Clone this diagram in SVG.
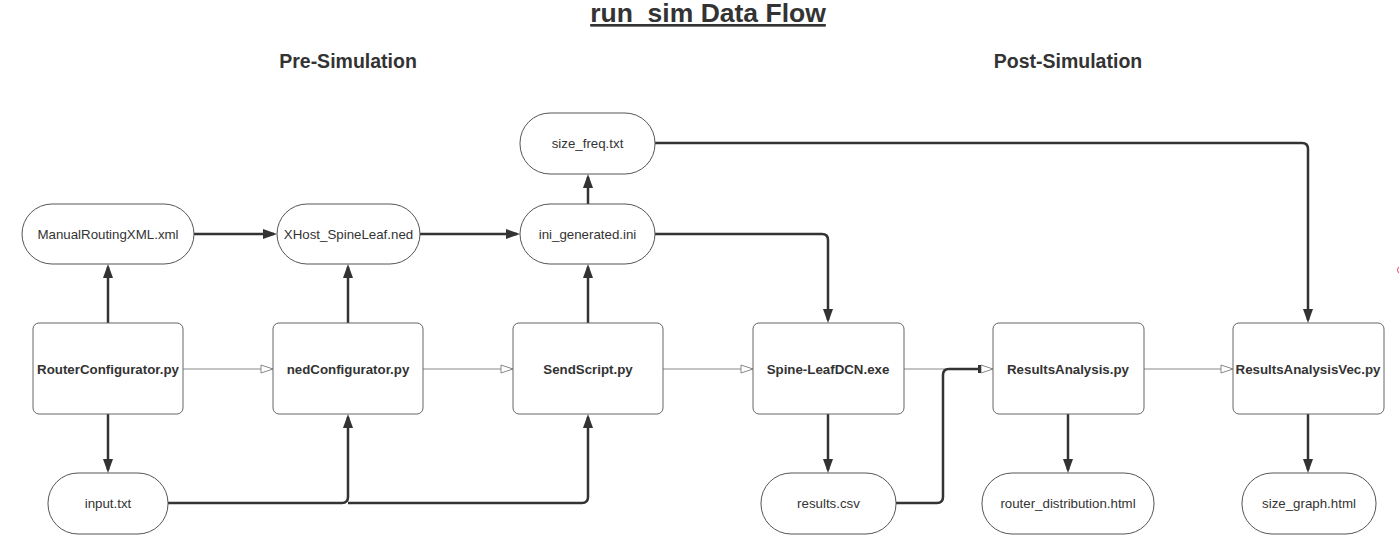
<svg xmlns="http://www.w3.org/2000/svg" width="1399" height="544" viewBox="0 0 1399 544">
<style>
  .bg { fill: #ffffff; }
  .oval { fill: #ffffff; stroke: #555555; stroke-width: 1; }
  .box { fill: #ffffff; stroke: #666666; stroke-width: 1; }
  .lbl { font-family: "Liberation Sans", Arial, sans-serif; font-size: 13.3px; fill: #333333; text-anchor: middle; }
  .blbl { font-family: "Liberation Sans", Arial, sans-serif; font-size: 13.3px; font-weight: bold; fill: #333333; text-anchor: middle; }
  .hdr { font-family: "Liberation Sans", Arial, sans-serif; font-size: 19.5px; font-weight: bold; fill: #333333; text-anchor: middle; }
  .title { font-family: "Liberation Sans", Arial, sans-serif; font-size: 26.5px; font-weight: bold; fill: #333333; text-anchor: middle; text-decoration: underline; }
  .thick { fill: none; stroke: #333333; stroke-width: 2.5; }
  .thin { fill: none; stroke: #888888; stroke-width: 1; }
</style>
<defs>
  <marker id="fa" markerUnits="userSpaceOnUse" markerWidth="14" markerHeight="10" viewBox="0 0 14 10" refX="11" refY="5" orient="auto">
    <path d="M0,0 L14,5 L0,10 z" fill="#333333"/>
  </marker>
  <marker id="oa" markerUnits="userSpaceOnUse" markerWidth="14" markerHeight="10" viewBox="0 0 14 10" refX="13" refY="5" orient="auto">
    <path d="M1,1 L13,5 L1,9 z" fill="#ffffff" stroke="#888888" stroke-width="1"/>
  </marker>
</defs>
<rect class="bg" x="0" y="0" width="1399" height="544"/>

<text class="title" x="708" y="22">run_sim Data Flow</text>
<text class="hdr" x="348" y="68">Pre-Simulation</text>
<text class="hdr" x="1068" y="68">Post-Simulation</text>

<g id="connectors">
  <path class="thin" d="M183,369 H273" marker-end="url(#oa)"/>
  <path class="thin" d="M423,369 H513" marker-end="url(#oa)"/>
  <path class="thin" d="M663,369 H753" marker-end="url(#oa)"/>
  <path class="thin" d="M904,369 H993" marker-end="url(#oa)"/>
  <path class="thin" d="M1144,369 H1233" marker-end="url(#oa)"/>

  <path class="thick" d="M108,323 V267" marker-end="url(#fa)"/>
  <path class="thick" d="M108,414 V470" marker-end="url(#fa)"/>
  <path class="thick" d="M348,323 V267" marker-end="url(#fa)"/>
  <path class="thick" d="M588,323 V267" marker-end="url(#fa)"/>
  <path class="thick" d="M588,204 V177" marker-end="url(#fa)"/>
  <path class="thick" d="M194,234 H274" marker-end="url(#fa)"/>
  <path class="thick" d="M420,234 H517" marker-end="url(#fa)"/>
  <path class="thick" d="M655,234 H822 Q828,234 828,240 V320" marker-end="url(#fa)"/>
  <path class="thick" d="M655,143 H1302 Q1308,143 1308,149 V320" marker-end="url(#fa)"/>
  <path class="thick" d="M168,503 H342 Q348,503 348,497 V417" marker-end="url(#fa)"/>
  <path class="thick" d="M348,503 H582 Q588,503 588,497 V417" marker-end="url(#fa)"/>
  <path class="thick" d="M828,414 V470" marker-end="url(#fa)"/>
  <path class="thick" d="M896,503 H937 Q943,503 943,497 V375 Q943,369 949,369 H979"/>
  <rect x="978" y="365" width="3" height="8" fill="#333333"/>
  <path class="thick" d="M1068,414 V470" marker-end="url(#fa)"/>
  <path class="thick" d="M1308,414 V470" marker-end="url(#fa)"/>
</g>

<g id="size_freq">
  <rect class="oval" x="520" y="113" width="135" height="61" rx="30" ry="30"/>
  <text class="lbl" x="587.5" y="148">size_freq.txt</text>
</g>
<g id="manual_routing">
  <rect class="oval" x="22" y="204" width="172" height="60" rx="30" ry="30"/>
  <text class="lbl" x="108" y="238.5">ManualRoutingXML.xml</text>
</g>
<g id="xhost">
  <rect class="oval" x="277" y="204" width="143" height="60" rx="30" ry="30"/>
  <text class="lbl" x="348.5" y="238.5">XHost_SpineLeaf.ned</text>
</g>
<g id="ini_generated">
  <rect class="oval" x="520" y="204" width="135" height="60" rx="30" ry="30"/>
  <text class="lbl" x="587.5" y="238.5">ini_generated.ini</text>
</g>

<g id="router_configurator">
  <rect class="box" x="33" y="323" width="150" height="91" rx="6" ry="6"/>
  <text class="blbl" x="108" y="373.5">RouterConfigurator.py</text>
</g>
<g id="ned_configurator">
  <rect class="box" x="273" y="323" width="150" height="91" rx="6" ry="6"/>
  <text class="blbl" x="348" y="373.5">nedConfigurator.py</text>
</g>
<g id="send_script">
  <rect class="box" x="513" y="323" width="150" height="91" rx="6" ry="6"/>
  <text class="blbl" x="588" y="373.5">SendScript.py</text>
</g>
<g id="spine_leaf">
  <rect class="box" x="753" y="323" width="151" height="91" rx="6" ry="6"/>
  <text class="blbl" x="828" y="373.5">Spine-LeafDCN.exe</text>
</g>
<g id="results_analysis">
  <rect class="box" x="993" y="323" width="151" height="91" rx="6" ry="6"/>
  <text class="blbl" x="1068" y="373.5">ResultsAnalysis.py</text>
</g>
<g id="results_analysis_vec">
  <rect class="box" x="1233" y="323" width="151" height="91" rx="6" ry="6"/>
  <text class="blbl" x="1308" y="373.5">ResultsAnalysisVec.py</text>
</g>

<g id="input_txt">
  <rect class="oval" x="48" y="473" width="120" height="61" rx="30" ry="30"/>
  <text class="lbl" x="108" y="508">input.txt</text>
</g>
<g id="results_csv">
  <rect class="oval" x="761" y="473" width="135" height="61" rx="30" ry="30"/>
  <text class="lbl" x="828.5" y="508">results.csv</text>
</g>
<g id="router_distribution">
  <rect class="oval" x="982" y="473" width="172" height="61" rx="30" ry="30"/>
  <text class="lbl" x="1068" y="508">router_distribution.html</text>
</g>
<g id="size_graph">
  <rect class="oval" x="1242" y="473" width="134" height="61" rx="30" ry="30"/>
  <text class="lbl" x="1309" y="508">size_graph.html</text>
</g>

<circle cx="1401" cy="270" r="3.5" fill="none" stroke="#ee4466" stroke-width="1"/>
</svg>
